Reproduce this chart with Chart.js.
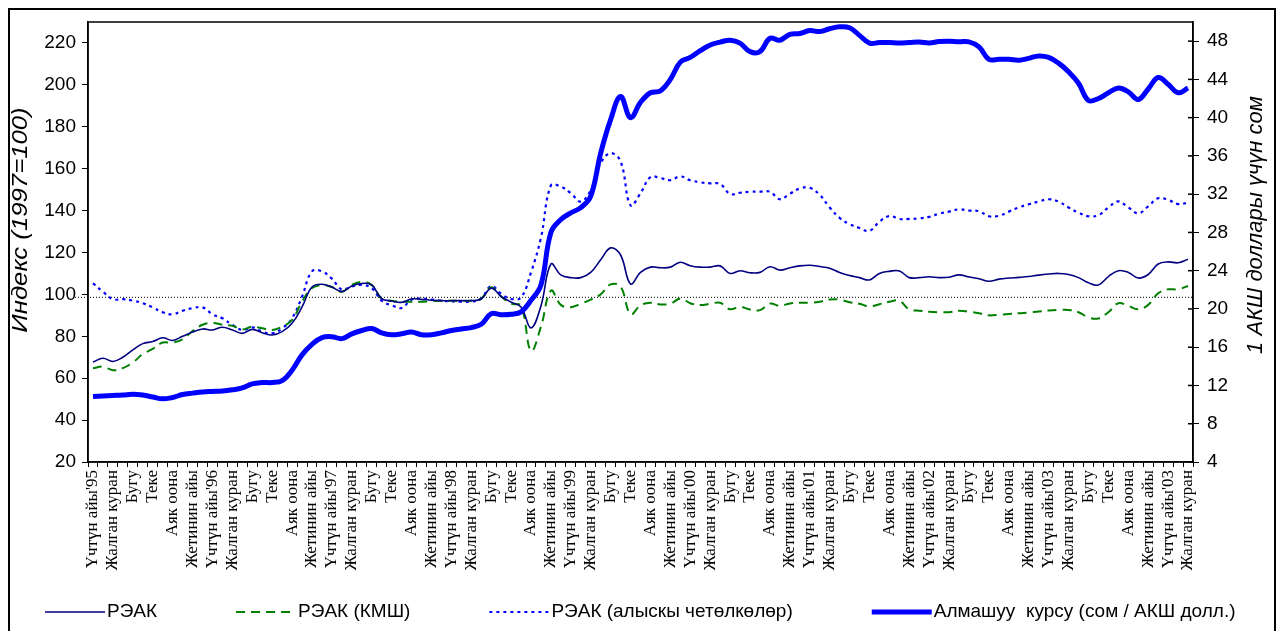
<!DOCTYPE html>
<html>
<head>
<meta charset="utf-8">
<script src="https://cdn.jsdelivr.net/npm/chart.js@4.4.1/dist/chart.umd.min.js"></script>
<style>
html, body { margin: 0; padding: 0; background: #fff; }
#wrap { position: relative; width: 1279px; height: 631px; }
</style>
</head>
<body>
<div id="wrap"><canvas id="chart"></canvas></div>
<script>
// month names shown every second month, with year suffix on the first one
const monthNames = ["Үчтүн айы", "Жалган куран", "Бугу", "Теке", "Аяк оона", "Жетинин айы"];
const yearTags = ["'95", "'96", "'97", "'98", "'99", "'00", "'01", "'02", "'03", "'03"];
const monthCount = 111; // Jan 1995 .. Mar 2004

const leftTicks = [20, 40, 60, 80, 100, 120, 140, 160, 180, 200, 220];
const rightTicks = [4, 8, 12, 16, 20, 24, 28, 32, 36, 40, 44, 48];

const reerTotal = [
    67.7, 69.5, 68, 70, 73.5, 76.5, 77.5, 79.3, 78, 80, 82, 83.5,
    83, 84.3, 83, 81.4, 83.3, 81.7, 80.6, 82.2, 86.2, 94, 103.5, 104.8,
    103.5, 101.3, 104, 105.2, 104.5, 98, 96.8, 96.2, 97.8, 97.6, 97.2, 97,
    97, 97, 97, 97.8, 103, 99, 96.3, 94, 84, 94.5, 114.5, 109.3,
    108, 108, 110.5, 116.5, 122.2, 118.8, 105, 110.5, 113, 112.7, 113, 115.3,
    113.7, 113, 113, 113.6, 110, 111.3, 110.3, 110.5, 113.2, 111.6, 112.7, 113.6,
    113.9, 113.3, 112.5, 110.5, 109, 108, 106.9, 110, 111, 111.2, 108, 108,
    108.4, 108, 108.2, 109.3, 108.3, 107.5, 106.3, 107.3, 107.8, 108.1, 108.5, 109.2,
    109.7, 110, 109.5, 108, 105.5, 104.5, 108.5, 111.3, 110.5, 107.8, 109.5, 114.5,
    115.5, 115.1, 116.8
];
const reerCis = [
    64.7, 65.5, 63.8, 64.8, 67.5, 71.5, 74, 77, 77, 78.5, 82.5, 85.5,
    86.4, 85.5, 85, 83.3, 84.6, 83.8, 83, 84.6, 87.8, 96.5, 103, 104.5,
    103.5, 101.3, 104.5, 106, 104.5, 98, 97, 96.5, 96.5, 96.5, 96.8, 97,
    97, 97, 97, 98, 103.4, 99, 95.6, 94.5, 73, 84.6, 101.8, 95,
    93.9, 95.5, 97.5, 100, 104.8, 103.7, 90.5, 94.8, 96, 95.2, 95.5, 98,
    95.8, 94.9, 95.5, 96, 92.9, 94.1, 92.8, 92.5, 95.6, 94.5, 95.7, 96,
    96, 96.5, 97.5, 97.5, 96.2, 95.5, 94.2, 95.3, 96.5, 97, 92.8, 92.2,
    91.7, 91.5, 91.5, 92.2, 91.7, 91, 90, 90.3, 90.6, 91, 91.3, 91.8,
    92.3, 92.6, 92.6, 91.5, 89, 88.5, 91.5, 95.8, 94.5, 92.9, 95, 100.5,
    102.4, 102.4, 104
];
const reerFar = [
    105.3, 101.3, 97.7, 97.7, 97, 95.8, 93.8, 91.5, 90.5, 92.2, 93.4, 93.8,
    90.5, 88.6, 85.4, 83, 84.3, 82.2, 81.4, 83.8, 88.6, 98.9, 111, 111,
    107.5, 102.3, 103.8, 104.5, 103, 97, 94.8, 93.5, 97.5, 98, 97.5, 97,
    96.7, 96.5, 96.5, 98.1, 104, 100.3, 97.8, 98.5, 110.5, 127, 152, 151.4,
    148.3, 144.3, 149.8, 162.6, 167.4, 163.5, 142.5, 148.3, 156, 155.5, 154.5, 156.3,
    154.5, 153.5, 153, 152.7, 147.9, 148.5, 149, 149, 149, 145.4, 148, 150.5,
    150.9, 147.5, 141.5, 136.5, 133.5, 131.7, 130.3, 134.7, 137.4, 136, 136, 136.3,
    137, 138.5, 139.5, 140.6, 140, 139.7, 137.3, 137.5, 139.5, 141.5, 143, 144.3,
    145.4, 144.3, 141.5, 139, 137.3, 137.8, 141.5, 144.4, 141.5, 138.7, 142, 145.9,
    145.1, 143.1, 143.8
];
const somPerUsd = [
    10.84, 10.9, 10.95, 11.0, 11.08, 11.0, 10.8, 10.6, 10.75, 11.05, 11.2, 11.33,
    11.38, 11.42, 11.55, 11.75, 12.17, 12.3, 12.31, 12.5, 13.6, 15.2, 16.3, 17.0,
    17.1, 16.9, 17.4, 17.75, 17.95, 17.5, 17.3, 17.4, 17.6, 17.3, 17.3, 17.5,
    17.75, 17.9, 18.05, 18.4, 19.5, 19.4, 19.45, 19.7, 20.9, 22.5, 28.0, 29.35,
    30.05, 30.6, 31.8, 36.3, 39.8, 42.2, 40.0, 41.6, 42.6, 42.8, 44.0, 45.8,
    46.3, 47.0, 47.6, 47.9, 48.1, 47.8, 46.9, 46.9, 48.3, 48.1, 48.7, 48.8,
    49.1, 49.0, 49.3, 49.5, 49.4, 48.6, 47.8, 47.85, 47.85, 47.8, 47.85, 47.9,
    47.8, 47.95, 48.0, 47.93, 47.93, 47.4, 46.1, 46.1, 46.1, 46.0, 46.2, 46.45,
    46.3, 45.7, 44.8, 43.6, 41.8, 42.0, 42.6, 43.1, 42.7, 41.9, 43.0, 44.2,
    43.5, 42.6, 43.1
];
const refLevel = 98.6;

const leftTitle = "Индекс (1997=100)";
const rightTitle = "1 АКШ доллары үчүн сом";

const labels = [];
for (let i = 0; i < monthCount; i++) {
    if (i % 2 === 1) {
        labels.push("");
        continue;
    }
    const m = (i / 2) % 6;
    const year = Math.floor(i / 12);
    labels.push(m === 0 ? monthNames[0] + yearTags[year] : monthNames[m]);
}

const sans = "'Liberation Sans', Arial, sans-serif";
const serif = "'Liberation Serif', 'Times New Roman', serif";

Chart.defaults.font.family = sans;
Chart.defaults.font.size = 19;
Chart.defaults.color = "#000";

function drawVertical(ctx, text, x, y, stretch) {
    ctx.save();
    ctx.translate(x, y);
    ctx.rotate(-Math.PI / 2);
    ctx.scale(stretch, 1);
    ctx.fillText(text, 0, 0);
    ctx.restore();
}

const decor = {
    id: "decor",
    beforeDatasetsDraw(chart) {
        const {ctx, chartArea, scales} = chart;
        const y = scales.y.getPixelForValue(refLevel);
        ctx.save();
        ctx.strokeStyle = "#000";
        ctx.lineWidth = 1;
        ctx.setLineDash([1, 2]);
        ctx.beginPath();
        ctx.moveTo(chartArea.left - 13, y);
        ctx.lineTo(chartArea.right, y);
        ctx.stroke();
        ctx.restore();
    },
    afterDraw(chart) {
        const {ctx, chartArea, scales} = chart;
        ctx.save();
        ctx.strokeStyle = "#000";
        ctx.lineWidth = 1.5;
        ctx.strokeRect(chartArea.left, chartArea.top, chartArea.width, chartArea.height);

        // inner half of the right axis ticks
        scales.y1.ticks.forEach(t => {
            const y = scales.y1.getPixelForValue(t.value);
            ctx.beginPath();
            ctx.moveTo(chartArea.right - 5, y);
            ctx.lineTo(chartArea.right, y);
            ctx.stroke();
        });

        // outer frame
        ctx.lineWidth = 2;
        ctx.strokeRect(9, 9, 1266, 700);

        // axis titles
        ctx.font = "italic 22px " + sans;
        ctx.textAlign = "center";
        ctx.textBaseline = "middle";
        ctx.fillStyle = "#000";
        drawVertical(ctx, leftTitle, 21, 220, 1.17);
        drawVertical(ctx, rightTitle, 1256, 225, 1.0);

        // legend
        ctx.font = "19px " + sans;
        ctx.textAlign = "left";
        let x = 45;
        const ly = 612;
        chart.data.datasets.forEach(ds => {
            ctx.strokeStyle = ds.borderColor;
            ctx.lineWidth = ds.borderWidth;
            ctx.setLineDash(ds.borderDash || []);
            ctx.beginPath();
            ctx.moveTo(x, ly);
            ctx.lineTo(x + 60, ly);
            ctx.stroke();
            ctx.fillText(ds.label, x + 62, ly);
            x += 62 + ctx.measureText(ds.label).width + 79;
        });
        ctx.restore();
    }
};

new Chart(document.getElementById("chart"), {
    type: "line",
    data: {
        labels: labels,
        datasets: [
            {
                label: "РЭАК",
                data: reerTotal,
                borderColor: "#000080",
                borderWidth: 1.6,
                yAxisID: "y",
                order: 1
            },
            {
                label: "РЭАК (КМШ)",
                data: reerCis,
                borderColor: "#008000",
                borderWidth: 2,
                borderDash: [9, 6],
                yAxisID: "y",
                order: 1
            },
            {
                label: "РЭАК (алыскы четөлкөлөр)",
                data: reerFar,
                borderColor: "#0000ff",
                borderWidth: 2.2,
                borderDash: [3, 4],
                yAxisID: "y",
                order: 1
            },
            {
                label: "Алмашуу  курсу (сом / АКШ долл.)",
                data: somPerUsd,
                borderColor: "#0000ff",
                borderWidth: 5,
                yAxisID: "y1",
                order: 0
            }
        ]
    },
    options: {
        responsive: true,
        maintainAspectRatio: false,
        animation: false,
        layout: {
            padding: {top: 22, left: 0, right: 0, bottom: 0}
        },
        elements: {
            point: {radius: 0},
            line: {tension: 0.4, fill: false}
        },
        plugins: {
            legend: {display: false},
            tooltip: {enabled: false}
        },
        scales: {
            x: {
                offset: true,
                grid: {
                    offset: true,
                    drawOnChartArea: false,
                    tickLength: 5,
                    color: "#000"
                },
                border: {display: true, color: "#000", width: 1.5},
                ticks: {
                    autoSkip: false,
                    minRotation: 90,
                    maxRotation: 90,
                    padding: 3,
                    font: {family: serif, size: 17}
                },
                afterFit(scale) {
                    scale.height = 169;
                }
            },
            y: {
                position: "left",
                min: 20,
                max: 230,
                ticks: {padding: 6},
                grid: {
                    drawOnChartArea: false,
                    tickLength: 6,
                    color: "#000"
                },
                border: {display: true, color: "#000", width: 1.5},
                afterBuildTicks(scale) {
                    scale.ticks = leftTicks.map(v => ({value: v}));
                },
                afterFit(scale) {
                    scale.width = 88;
                }
            },
            y1: {
                position: "right",
                min: 4,
                max: 50,
                ticks: {padding: 8},
                grid: {
                    drawOnChartArea: false,
                    tickLength: 6,
                    color: "#000"
                },
                border: {display: true, color: "#000", width: 1.5},
                afterBuildTicks(scale) {
                    scale.ticks = rightTicks.map(v => ({value: v}));
                },
                afterFit(scale) {
                    scale.width = 86;
                }
            }
        }
    },
    plugins: [decor]
});
</script>
</body>
</html>
